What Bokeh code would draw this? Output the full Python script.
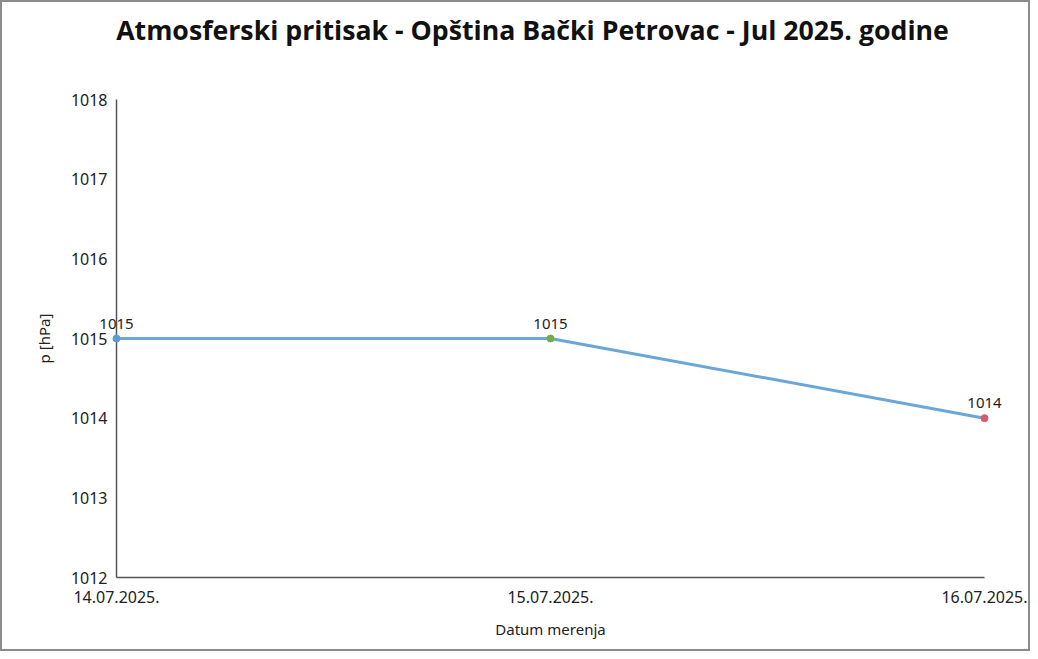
from bokeh.plotting import figure
from bokeh.models import ColumnDataSource, FixedTicker
from bokeh.core.properties import value
from bokeh.embed import file_html
from bokeh.resources import INLINE

title = "Atmosferski pritisak - Opština Bački Petrovac - Jul 2025. godine"
dates = ["14.07.2025.", "15.07.2025.", "16.07.2025."]
pressure = [1015, 1015, 1014]
point_colors = ["#5b9bd5", "#70ad47", "#e0556a"]
y_ticks = [1012, 1013, 1014, 1015, 1016, 1017, 1018]

xs = list(range(len(dates)))
src = ColumnDataSource(dict(x=xs, y=pressure, c=point_colors, t=[str(v) for v in pressure]))
title_src = ColumnDataSource(dict(x=[(len(dates) - 1) / 2], y=[max(y_ticks)], t=[title]))

p = figure(width=1030, height=651, x_range=(0, 2), y_range=(1012, 1018),
           output_backend="svg", toolbar_location=None,
           min_border_left=114, min_border_right=48, min_border_top=97, min_border_bottom=76)
p.styles = {"border": "2px solid #8c8c8c", "box-sizing": "border-box"}

# chart title, drawn above the plotting frame
p.text("x", "y", text="t", source=title_src, x_offset=-18, y_offset=-70,
       text_align="center", text_baseline="middle",
       text_font=value("Open Sans"), text_font_size="26.7px", text_font_style="bold",
       text_color="#111111", level="overlay")

p.line("x", "y", source=src, line_color="#6aa6d8", line_width=3, level="overlay")
p.scatter("x", "y", source=src, size=7, fill_color="c", line_color="c", level="overlay")
p.text("x", "y", text="t", source=src, y_offset=-10, text_align="center", text_baseline="bottom",
       text_font=value("Noto Sans"), text_font_size="15px", text_color="#222222",
       level="overlay")

p.grid.visible = False
p.outline_line_color = None

p.xaxis.ticker = FixedTicker(ticks=xs)
p.xaxis.major_label_overrides = {i: d for i, d in enumerate(dates)}
p.yaxis.ticker = FixedTicker(ticks=y_ticks)
for ax in (p.xaxis, p.yaxis):
    ax.axis_line_color = "#555555"
    ax.axis_line_width = 1.5
    ax.major_tick_line_color = None
    ax.minor_tick_line_color = None
    ax.major_tick_out = 0
    ax.major_tick_in = 0
    ax.minor_tick_out = 0
    ax.major_label_text_font = "Noto Sans"
    ax.major_label_text_font_size = "16px"
    ax.major_label_text_color = "#222222"
    ax.axis_label_text_font = "Noto Sans"
    ax.axis_label_text_font_size = "15px"
    ax.axis_label_text_font_style = "normal"
    ax.axis_label_text_color = "#222222"

p.yaxis.axis_label = "p [hPa]"
p.yaxis.major_label_standoff = 9
p.yaxis.axis_label_standoff = 14
p.xaxis.axis_label = "Datum merenja"
p.xaxis.major_label_standoff = 13
p.xaxis.axis_label_standoff = 13

open("out.html", "w").write(file_html(p, INLINE))
